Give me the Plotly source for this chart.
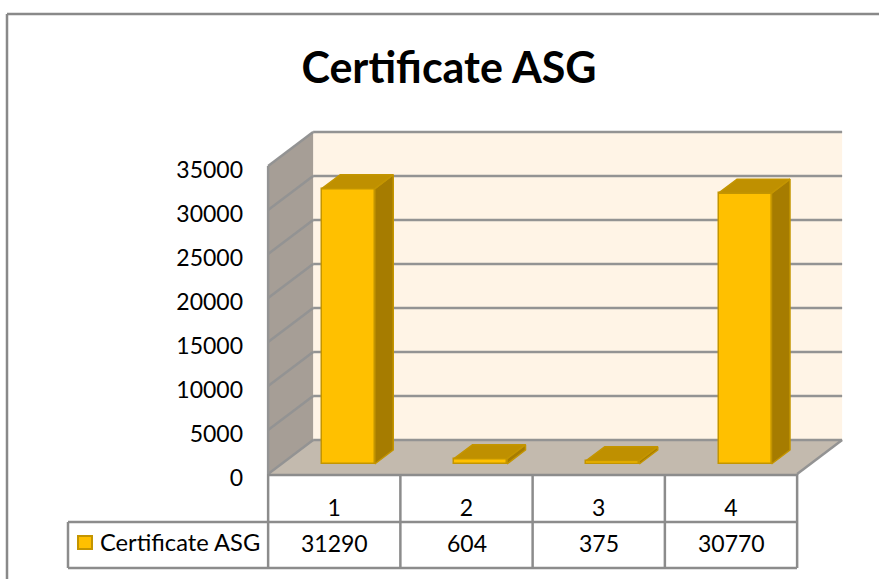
import plotly.graph_objects as go

categories = [1, 2, 3, 4]
values = [31290, 604, 375, 30770]
series_name = "Certificate ASG"
y_ticks = [0, 5000, 10000, 15000, 20000, 25000, 30000, 35000]

FONT = "Lato, Carlito, Calibri, sans-serif"
W, H = 879, 579
L, R, T, B = 262, 850, 126, 480
GRID = "#939393"
EDGE = "#8C8C8C"
BAR = "#FFC000"
BAR_EDGE = "#C49500"
BAR_TOP = "#BF9000"
BAR_SIDE = "#A67C00"
TEXT_SIZE = 23

UX = 132.25          # px per category
UY = 44 / 5000       # px per value
X = lambda px: 1 + (px - 334.25) / UX
Y = lambda py: (474 - py) / UY
PX = lambda px: (px - L) / (R - L)
PY = lambda py: (B - py) / (B - T)

WALL_DX, WALL_DY = 45 / UX, 34 / UY
BAR_W = 53 / UX
BAR_OFF_X, BAR_OFF_Y = 14 / UX, 10 / UY
BAR_DX, BAR_DY = 18.5 / UX, 14 / UY

x0, x1 = 0.5, 4.5
shapes = []


def poly(pts, fill, line=None, width=0):
    path = "M " + " L ".join(f"{a},{b}" for a, b in pts) + " Z"
    shapes.append(dict(type="path", path=path, xref="x", yref="y", layer="below",
                       fillcolor=fill, line=dict(color=line or fill, width=width)))


def seg(a, b, c, d, color=GRID, width=2.5):
    shapes.append(dict(type="line", xref="x", yref="y", layer="below",
                       x0=a, y0=b, x1=c, y1=d, line=dict(color=color, width=width)))


def pseg(a, b, c, d, color=EDGE, width=2.5):
    shapes.append(dict(type="line", xref="paper", yref="paper", layer="above",
                       x0=PX(a), y0=PY(b), x1=PX(c), y1=PY(d), line=dict(color=color, width=width)))


top = y_ticks[-1]
poly([(x0 + WALL_DX, WALL_DY), (x1 + WALL_DX, WALL_DY), (x1 + WALL_DX, top + WALL_DY), (x0 + WALL_DX, top + WALL_DY)], "#FFF4E6")
poly([(x0, 0), (x0 + WALL_DX, WALL_DY), (x0 + WALL_DX, top + WALL_DY), (x0, top)], "#A69E96")
poly([(x0, 0), (x0 + WALL_DX, WALL_DY), (x1 + WALL_DX, WALL_DY), (x1, 0)], "#C3BAAE")
for t in y_ticks:
    seg(x0, t, x0 + WALL_DX, t + WALL_DY)
    seg(x0 + WALL_DX, t + WALL_DY, x1 + WALL_DX, t + WALL_DY)
seg(x0, 0, x0, top)
seg(x1, 0, x1 + WALL_DX, WALL_DY)

# outer chart border
pseg(7, 14, W, 14, "#898989", 2.5)
pseg(7, 14, 7, H, "#898989", 2.5)

# data table lines
for c in categories + [0]:
    shapes.append(dict(type="line", xref="x", yref="paper", layer="above", x0=c + 0.5, x1=c + 0.5,
                       y0=PY(568), y1=PY(474), line=dict(color=EDGE, width=2.5)))
pseg(268, 475, 797, 475)
pseg(68, 522, 797, 522)
pseg(68, 568, 797, 568)
pseg(68, 522, 68, 568)

# legend key
shapes.append(dict(type="rect", xref="paper", yref="paper", layer="above", x0=PX(78), x1=PX(92),
                   y0=PY(549), y1=PY(536), fillcolor=BAR, line=dict(color=BAR_EDGE, width=2)))

fig = go.Figure()

bar_x = [c + BAR_OFF_X for c in categories]
fig.add_trace(go.Bar(x=bar_x, y=values, base=[BAR_OFF_Y] * len(values), width=BAR_W,
                     marker=dict(color=BAR, line=dict(color=BAR_EDGE, width=1.5)),
                     name=series_name, hoverinfo="y", showlegend=False))

for cx, v in zip(bar_x, values):
    l, r = cx - BAR_W / 2, cx + BAR_W / 2
    b, t = BAR_OFF_Y, BAR_OFF_Y + v
    fig.add_trace(go.Scatter(
        x=[r, r + BAR_DX, r + BAR_DX, r, r], y=[b, b + BAR_DY, t + BAR_DY, t, b],
        mode="lines", fill="toself", fillcolor=BAR_SIDE,
        line=dict(color=BAR_EDGE, width=1.5), hoverinfo="skip", showlegend=False))
    fig.add_trace(go.Scatter(
        x=[l, r, r + BAR_DX, l + BAR_DX, l], y=[t, t, t + BAR_DY, t + BAR_DY, t],
        mode="lines", fill="toself", fillcolor=BAR_TOP,
        line=dict(color=BAR_EDGE, width=1.5), hoverinfo="skip", showlegend=False))

annotations = [dict(x=c, y=PY(543), xref="x", yref="paper", text=str(v), showarrow=False,
                    font=dict(family=FONT, size=TEXT_SIZE, color="#000000"), xanchor="center", yanchor="middle")
               for c, v in zip(categories, values)]
annotations.append(dict(x=PX(98), y=PY(542), xref="paper", yref="paper", text=series_name, showarrow=False,
                        font=dict(family=FONT, size=TEXT_SIZE + 0.7, color="#000000"), xanchor="left", yanchor="middle"))

fig.update_layout(
    width=W, height=H, autosize=False,
    margin=dict(l=L, r=W - R, t=T, b=H - B, pad=0),
    paper_bgcolor="#FFFFFF", plot_bgcolor="rgba(0,0,0,0)",
    showlegend=False, shapes=shapes, annotations=annotations,
    bargap=0,
    title=dict(text=f"<b>{series_name}</b>", x=449 / W, xref="container", xanchor="center",
               y=1 - 68 / H, yref="container", yanchor="middle",
               font=dict(family=FONT, size=43, color="#000000")),
    xaxis=dict(range=[X(L), X(R)], tickmode="array", tickvals=categories, ticktext=[str(c) for c in categories],
               showgrid=False, zeroline=False, showline=False, ticks="", ticklabelstandoff=12,
               tickfont=dict(family=FONT, size=TEXT_SIZE, color="#000000")),
    yaxis=dict(range=[Y(B), Y(T)], tickmode="array", tickvals=y_ticks, ticktext=[str(t) for t in y_ticks],
               showgrid=False, zeroline=False, showline=False, ticks="", ticklabelstandoff=18,
               ticklabelshift=4,
               tickfont=dict(family=FONT, size=TEXT_SIZE, color="#000000")),
)

fig.write_html("out.html", config=dict(displayModeBar=False), post_script="document.body.style.margin='0';")
